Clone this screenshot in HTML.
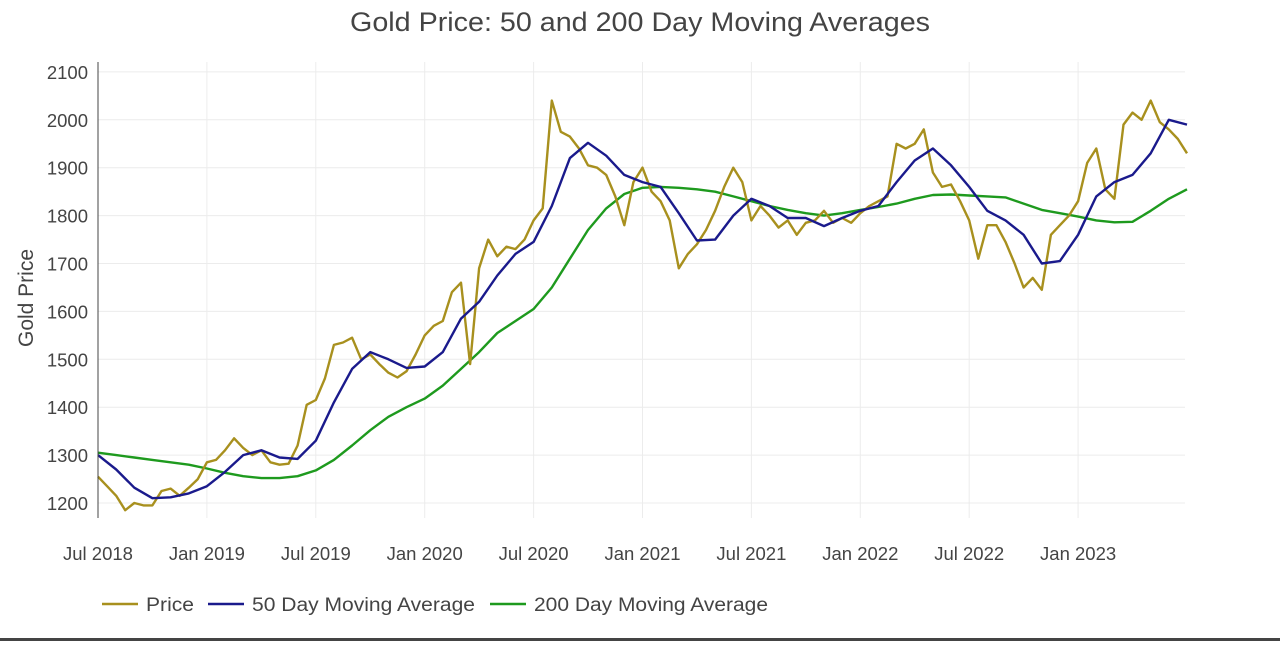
<!DOCTYPE html>
<html><head><meta charset="utf-8"><style>
body{margin:0;background:#fff;font-family:"Liberation Sans",sans-serif;}
svg text{font-family:"Liberation Sans",sans-serif;fill:#444;}
</style></head><body>
<svg id="chart" width="1280" height="641" viewBox="0 0 1280 641" xmlns="http://www.w3.org/2000/svg">
<text x="350" y="31" font-size="27" textLength="580" lengthAdjust="spacingAndGlyphs">Gold Price: 50 and 200 Day Moving Averages</text>
<text transform="translate(33,298) rotate(-90)" text-anchor="middle" font-size="21">Gold Price</text>
<g id="grid"></g><g id="series"></g><g id="axes"></g>
<g>
<g><line x1="102" y1="604" x2="138" y2="604" stroke="#a8901e" stroke-width="2.5"/><text x="146" y="611" font-size="19" textLength="48" lengthAdjust="spacingAndGlyphs">Price</text></g>
<g><line x1="208" y1="604" x2="244" y2="604" stroke="#1a1a8c" stroke-width="2.5"/><text x="252" y="611" font-size="19" textLength="223" lengthAdjust="spacingAndGlyphs">50 Day Moving Average</text></g>
<g><line x1="490" y1="604" x2="526" y2="604" stroke="#1e9a1e" stroke-width="2.5"/><text x="534" y="611" font-size="19" textLength="234" lengthAdjust="spacingAndGlyphs">200 Day Moving Average</text></g>
</g>
<rect x="0" y="638" width="1280" height="3" fill="#444"/>
</svg>
<script>
// price sampled every half month from Jul 2018
const priceValues=[1255,1235,1215,1185,1200,1195,1195,1225,1230,1215,1232,1250,1285,1290,1310,1335,1315,1300,1310,1285,1280,1282,1320,1405,1415,1460,1530,1535,1545,1500,1510,1490,1472,1462,1475,1510,1550,1570,1580,1640,1660,1490,1690,1750,1715,1735,1730,1750,1790,1815,2040,1975,1965,1940,1905,1900,1885,1840,1780,1870,1900,1850,1830,1790,1690,1720,1740,1770,1810,1860,1900,1870,1790,1820,1800,1775,1790,1760,1785,1790,1810,1785,1795,1785,1805,1820,1830,1840,1950,1940,1950,1980,1890,1860,1865,1830,1790,1710,1780,1780,1745,1700,1650,1670,1645,1760,1780,1800,1830,1910,1940,1855,1835,1990,2015,2000,2040,1995,1980,1960,1930];
// moving averages sampled monthly
const ma50Values=[1300,1270,1232,1210,1212,1220,1235,1265,1300,1310,1295,1292,1330,1410,1480,1515,1500,1482,1485,1515,1585,1620,1675,1720,1745,1820,1920,1952,1925,1885,1870,1860,1805,1748,1750,1800,1835,1820,1795,1795,1778,1795,1810,1820,1870,1915,1940,1905,1860,1810,1790,1760,1700,1705,1760,1840,1870,1885,1930,2000,1990];
const ma200Values=[1305,1300,1295,1290,1285,1280,1272,1263,1256,1252,1252,1256,1268,1290,1320,1352,1380,1400,1418,1445,1480,1515,1555,1580,1605,1650,1710,1770,1815,1845,1858,1860,1858,1855,1850,1840,1830,1820,1812,1805,1800,1805,1812,1818,1825,1835,1843,1844,1842,1840,1838,1825,1812,1805,1798,1790,1786,1787,1810,1835,1855];
const yTicks=[1200,1300,1400,1500,1600,1700,1800,1900,2000,2100];
const xTickLabels=["Jul 2018","Jan 2019","Jul 2019","Jan 2020","Jul 2020","Jan 2021","Jul 2021","Jan 2022","Jul 2022","Jan 2023"];
const xTickMonths=[0,6,12,18,24,30,36,42,48,54];

const NS="http://www.w3.org/2000/svg";
const X0=98,PX_PER_MONTH=18.15,Y0=503,PX_PER_UNIT=0.479;
const xs=m=>X0+m*PX_PER_MONTH;
const ys=v=>Y0-(v-1200)*PX_PER_UNIT;
const grid=document.getElementById('grid'),axes=document.getElementById('axes'),series=document.getElementById('series');
function mk(tag,attrs,parent){const e=document.createElementNS(NS,tag);for(const k in attrs)e.setAttribute(k,attrs[k]);parent.appendChild(e);return e;}
yTicks.forEach(v=>{
  const l=mk('line',{x1:98,x2:1185,y1:ys(v),y2:ys(v),stroke:'#ececec','stroke-width':1},grid);
  
  
  const t=mk('text',{x:88,y:ys(v)+7,'text-anchor':'end','font-size':18.5},axes);
  t.textContent=v;
  
  
});
xTickMonths.forEach((m,i)=>{
  const l=mk('line',{x1:xs(m),x2:xs(m),y1:62,y2:518,stroke:'#ececec','stroke-width':1},grid);
  
  
  const t=mk('text',{x:xs(m),y:560,'text-anchor':'middle','font-size':18.5},axes);
  t.textContent=xTickLabels[i];
  
  
});
const zl=mk('line',{x1:98,x2:98,y1:62,y2:518,stroke:'#444','stroke-width':1},axes);


function line(vals,step,color,name){
  const d=vals.map((v,i)=>(i?'L':'M')+xs(i*step).toFixed(1)+','+ys(v).toFixed(1)).join('');
  const p=mk('path',{d:d,fill:'none',stroke:color,'stroke-width':2.4,'stroke-linejoin':'round'},series);
  
  
}
line(ma200Values,1,'#1e9a1e','ma200-line');
line(priceValues,0.5,'#a8901e','price-line');
line(ma50Values,1,'#1a1a8c','ma50-line');
</script>
</body></html>
